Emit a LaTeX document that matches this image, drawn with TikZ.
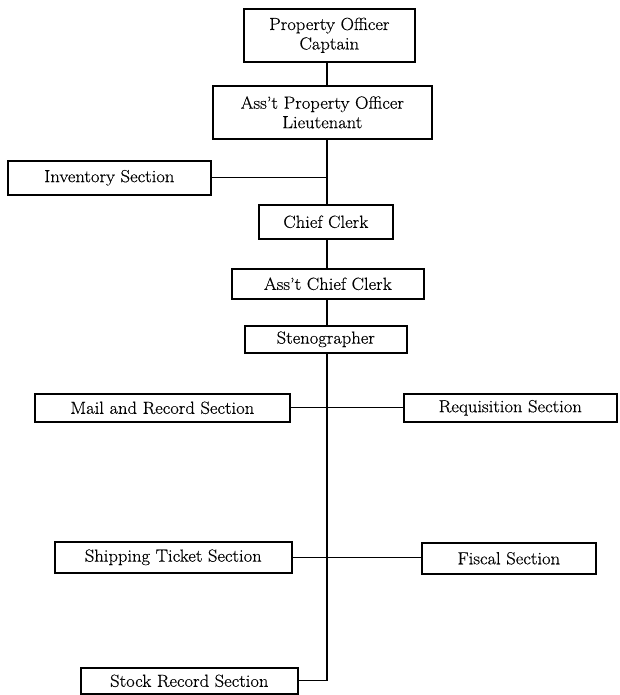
\documentclass[tikz,border=0pt]{standalone}
\usepackage{fontspec}
\setmainfont{Latin Modern Roman}[FakeStretch=1.06,FakeBold=0.4]
\begin{document}
\begin{tikzpicture}[x=1pt,y=-1pt,
  unit/.style={draw,line width=1.6pt,rectangle,inner sep=0pt,anchor=north west,
    font=\fontsize{17.5}{19.5}\selectfont,align=center},
  link/.style={line width=1.2pt}]
\useasboundingbox (0,0) rectangle (620,695);
% boxes: upper-left corner, width, height
\node[unit,minimum width=171,minimum height=53] (cap) at (243,8) {Property Officer\\Captain};
\node[unit,minimum width=219,minimum height=53] (apo) at (212,85) {Ass't Property Officer\\Lieutenant};
\node[unit,minimum width=203,minimum height=34] (inv) at (7,160) {Inventory Section};
\node[unit,minimum width=134,minimum height=34] (cc) at (258,204) {Chief Clerk};
\node[unit,minimum width=192,minimum height=30] (acc) at (231,268) {Ass't Chief Clerk};
\node[unit,minimum width=162,minimum height=27] (steno) at (244,325) {Stenographer};
\node[unit,minimum width=255,minimum height=28] (mail) at (34,393) {Mail and Record Section};
\node[unit,minimum width=213,minimum height=28] (req) at (403,393) {Requisition Section};
\node[unit,minimum width=237,minimum height=31] (ship) at (54,541) {Shipping Ticket Section};
\node[unit,minimum width=174,minimum height=31] (fisc) at (421,542) {Fiscal Section};
\node[unit,minimum width=217,minimum height=26] (stock) at (80,667) {Stock Record Section};
% main vertical line
\coordinate (spine) at (327,0);
\draw[link] (cap.south -| spine) -- (apo.north -| spine);
\draw[link] (apo.south -| spine) -- (cc.north -| spine);
\draw[link] (inv.east) -- (inv.east -| spine);
\draw[link] (cc.south -| spine) -- (acc.north -| spine);
\draw[link] (acc.south -| spine) -- (steno.north -| spine);
\draw[link] (steno.south -| spine) |- (stock.east);
\draw[link] (mail.east) -- (mail.east -| req.west);
\draw[link] (ship.east) -- (ship.east -| fisc.west);
\end{tikzpicture}
\end{document}
